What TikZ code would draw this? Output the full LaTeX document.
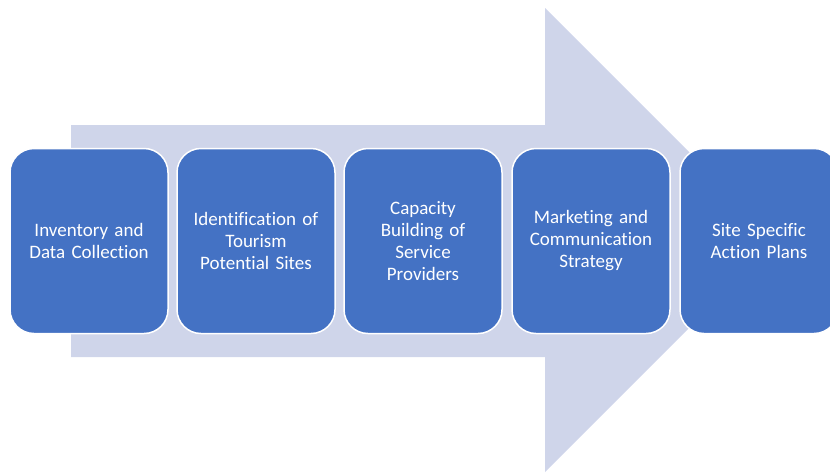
\documentclass[tikz,border=0pt]{standalone}
\usepackage{fontspec}
\setmainfont[Ligatures=NoCommon]{Carlito}
\definecolor{arrowbg}{HTML}{CFD5EA}
\definecolor{boxblue}{HTML}{4472C4}
\begin{document}
\begin{tikzpicture}[x=1pt,y=-1pt,
  stepbox/.style={draw=white,line width=1.5pt,fill=boxblue,rounded corners=24pt,
    minimum width=158pt,minimum height=185pt,inner sep=0pt,text=white,
    align=center,text width=154pt,font=\fontsize{19}{22}\selectfont}]
\useasboundingbox (0,0) rectangle (830,472);
\begin{scope}
\clip (0,0) rectangle (830,472);
\fill[arrowbg] (71,125) -- (545,125) -- (545,8) -- (777,240) -- (545,472) -- (545,357) -- (71,357) -- cycle;
\node[stepbox] (b1) at (89,241) {Inventory and\\Data Collection};
\node[stepbox] (b2) at (256,241) {Identification of\\Tourism\\Potential Sites};
\node[stepbox] (b3) at (423,241) {Capacity\\Building of\\Service\\Providers};
\node[stepbox] (b4) at (591,241) {Marketing and\\Communication\\Strategy};
\node[stepbox] (b5) at (759,241) {Site Specific\\Action Plans};
\end{scope}
\end{tikzpicture}
\end{document}
